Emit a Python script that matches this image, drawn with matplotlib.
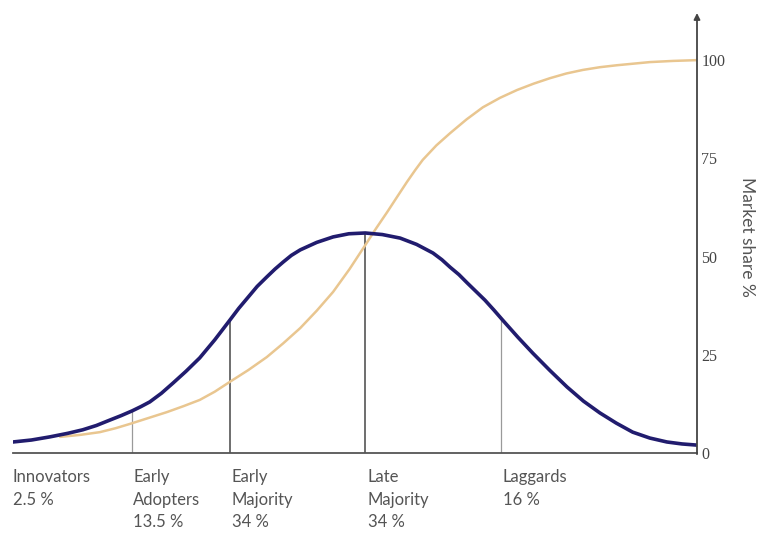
import matplotlib.pyplot as plt

# Adoption curve (bell), x in % of the time span
bell_x = [0, 2.7, 5.4, 8.0, 10.2, 12.2, 14.2, 15.8, 17.4, 18.7, 20.0, 21.7, 23.4, 25.3,
          27.3, 29.5, 31.7, 33.0, 34.4, 35.7, 37.1, 38.3, 39.5, 40.7, 42.0, 44.4, 46.8,
          49.1, 51.5, 54.0, 56.6, 59.0, 61.4, 62.7, 63.9, 65.2, 66.4, 67.7, 69.0, 70.3,
          71.6, 73.8, 76.0, 78.5, 81.0, 83.4, 85.8, 88.2, 90.6, 93.1, 95.6, 97.8, 100]
bell_y = [2.8, 3.3, 4.1, 5.0, 5.9, 7.0, 8.4, 9.5, 10.7, 11.8, 13.0, 15.2, 17.8, 20.8,
          24.2, 28.8, 33.8, 36.8, 39.7, 42.4, 44.8, 46.8, 48.6, 50.3, 51.7, 53.6, 55.0,
          55.8, 56.0, 55.6, 54.7, 53.1, 50.9, 49.2, 47.3, 45.4, 43.3, 41.1, 38.9, 36.4,
          33.8, 29.5, 25.4, 21.0, 16.8, 13.2, 10.2, 7.6, 5.3, 3.8, 2.8, 2.3, 2.0]

# Cumulative market share (S-curve)
share_x = [6.9, 9.8, 12.7, 15.0, 17.1, 19.8, 22.5, 24.9, 27.3, 29.5, 31.7, 34.4, 37.1,
           39.5, 42.0, 44.4, 46.8, 49.2, 51.5, 53.1, 54.7, 56.2, 57.6, 58.8, 59.9, 61.9,
           63.9, 66.3, 68.7, 71.2, 73.7, 76.1, 78.5, 80.9, 83.3, 85.8, 88.3, 90.7, 93.1,
           96.5, 100]
share_y = [4.1, 4.6, 5.3, 6.3, 7.4, 8.9, 10.4, 11.9, 13.5, 15.6, 18.1, 21.1, 24.4,
           27.9, 31.8, 36.2, 41.0, 46.8, 52.9, 57.2, 61.3, 65.3, 69.0, 72.0, 74.6, 78.3,
           81.4, 84.9, 88.0, 90.4, 92.4, 94.0, 95.4, 96.6, 97.5, 98.2, 98.7, 99.1, 99.5,
           99.8, 100]

# Group boundaries and where they meet the bell curve
divider_x = [17.4, 31.7, 51.5, 71.3]
divider_top = [10.7, 33.8, 56.0, 33.8]
divider_color = ['#9a9a9a', '#555555', '#555555', '#9a9a9a']

group_x = [0, 17.6, 32.0, 51.9, 71.6]
group_labels = ['Innovators\n2.5 %', 'Early\nAdopters\n13.5 %', 'Early\nMajority\n34 %',
                'Late\nMajority\n34 %', 'Laggards\n16 %']

yticks = [0, 25, 50, 75, 100]

fig = plt.figure(figsize=(7.63, 5.39), dpi=100)
ax = fig.add_axes([0.017, 0.1596, 0.8965, 0.8163])
ax.set_xlim(0, 100)
ax.set_ylim(0, 112)

for x, top, c in zip(divider_x, divider_top, divider_color):
  ax.plot([x, x], [0, top], color=c, lw=1.2 if c == '#555555' else 0.9, zorder=1)

ax.plot(share_x, share_y, color='#e9c690', lw=1.8, solid_capstyle='round', zorder=2)
ax.plot(bell_x, bell_y, color='#211c6e', lw=2.6, solid_capstyle='round',
        solid_joinstyle='round', zorder=3)

# Axes: bottom line and right axis with an arrow
for s in ['top', 'left', 'right']:
  ax.spines[s].set_visible(False)
ax.spines['bottom'].set_color('#555555')
ax.spines['bottom'].set_linewidth(1.3)
ax.annotate('', xy=(100, 112), xytext=(100, -0.3), xycoords='data',
            arrowprops=dict(arrowstyle='-|>', color='#444444', lw=1.3,
                            mutation_scale=9, shrinkA=0, shrinkB=0),
            annotation_clip=False)

ax.set_xticks([])
ax.yaxis.tick_right()
ax.set_yticks(yticks)
ax.set_yticklabels([str(t) for t in yticks], family='Liberation Serif', fontsize=11.5,
                   color='#444444')
ax.tick_params(axis='y', length=0, pad=3)
ax.yaxis.set_label_position('right')
ax.set_ylabel('Market share %', rotation=270, fontsize=12.5, color='#555555',
              family='Lato')
ax.yaxis.set_label_coords(1.085, 0.49)

for x, lab in zip(group_x, group_labels):
  ax.text(x, -4.2, lab, ha='left', va='top', fontsize=12, family='Lato',
          color='#555555', linespacing=1.5, clip_on=False)

plt.savefig('out.png', dpi=100)
